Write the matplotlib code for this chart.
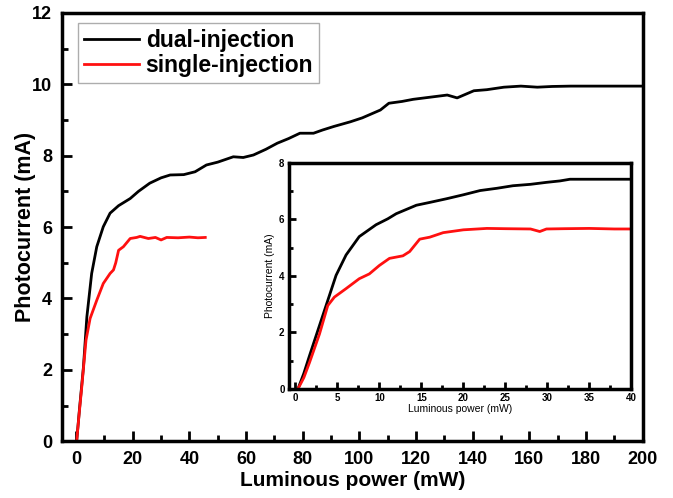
import numpy as np
import matplotlib.pyplot as plt
from matplotlib.ticker import MultipleLocator

plt.rcParams["font.family"] = ["Liberation Sans", "DejaVu Sans"]

# ── Data ──────────────────────────────────────────────────────────────────────
dual_x = [0.2, 1.2, 2.6, 3.8, 5.5, 7.3, 9.6, 12.0, 15.0, 19.1, 22.0, 26.0, 30.0,
          33.2, 38.0, 42.0, 46.0, 50.0, 55.5, 59.0, 62.6, 67.0, 71.0, 75.0, 79.0,
          83.8, 87.0, 91.0, 96.8, 101.0, 107.4, 110.4, 115.0, 119.0, 125.0,
          131.0, 134.5, 140.4, 145.0, 151.0, 157.0, 162.8, 168.0, 174.6, 185.0,
          200.0]
dual_y = [0.0, 0.9, 2.08, 3.48, 4.7, 5.45, 6.01, 6.39, 6.6, 6.8, 7.0, 7.23, 7.38,
          7.46, 7.47, 7.55, 7.74, 7.82, 7.97, 7.95, 8.02, 8.18, 8.35, 8.48, 8.63,
          8.63, 8.72, 8.82, 8.95, 9.06, 9.28, 9.47, 9.52, 9.58, 9.64,
          9.7, 9.62, 9.82, 9.85, 9.92, 9.95, 9.92, 9.94, 9.95, 9.95,
          9.95]

single_x = [0.2, 1.0, 2.0, 3.5, 4.95, 7.3, 9.6, 12.0, 13.2, 14.0, 15.0, 16.7,
            19.1, 21.4, 22.6, 25.5, 28.0, 30.0, 32.0, 36.0, 40.0, 43.0, 45.6]
single_y = [0.0, 0.7, 1.52, 2.83, 3.44, 3.95, 4.42, 4.7, 4.8, 5.0, 5.35, 5.45,
            5.68, 5.71, 5.74, 5.68, 5.71, 5.64, 5.71, 5.70, 5.72, 5.70, 5.71]

inset_dual_x = [0.3, 1.0, 1.67, 2.86, 3.85, 4.84, 6.03, 7.6, 9.6, 11.0, 12.0,
                14.4, 16.0, 18.0, 20.0, 22.0, 24.0, 25.9, 28.0, 29.9, 31.5,
                32.7, 35.0, 40.0]
inset_dual_y = [0.0, 0.55, 1.17, 2.24, 3.13, 4.02, 4.74, 5.39, 5.81, 6.02, 6.2,
                6.5, 6.6, 6.73, 6.87, 7.02, 7.1, 7.19, 7.24, 7.31, 7.36,
                7.42, 7.42, 7.42]

inset_single_x = [0.3, 1.0, 1.67, 2.86, 3.85, 4.64, 6.03, 7.6, 8.8, 10.0, 11.2,
                  12.8, 13.6, 14.8, 16.0, 17.6, 20.0, 22.8, 25.0, 28.0, 29.1,
                  29.9, 32.0, 35.0, 38.0, 40.0]
inset_single_y = [0.0, 0.4, 0.93, 1.94, 2.95, 3.25, 3.55, 3.9, 4.07, 4.37, 4.62,
                  4.71, 4.86, 5.3, 5.37, 5.53, 5.63, 5.68, 5.67, 5.66, 5.57,
                  5.66, 5.67, 5.68, 5.66, 5.66]

# ── Figure ────────────────────────────────────────────────────────────────────
fig = plt.figure(figsize=(6.73, 4.98), dpi=100, facecolor="white")
ax = fig.add_axes([0.092, 0.114, 0.863, 0.86])

ax.plot(dual_x, dual_y, color="black", lw=2, label="dual-injection")
ax.plot(single_x, single_y, color="#ff1010", lw=2, label="single-injection")

ax.set_xlim(-5, 200)
ax.set_ylim(0, 12)
ax.xaxis.set_major_locator(MultipleLocator(20))
ax.xaxis.set_minor_locator(MultipleLocator(10))
ax.yaxis.set_major_locator(MultipleLocator(2))
ax.yaxis.set_minor_locator(MultipleLocator(1))
ax.tick_params(which="major", direction="in", length=7, width=2, labelsize=13,
               top=False, right=False, pad=7)
ax.tick_params(which="minor", direction="in", length=4, width=2,
               top=False, right=False)
for lab in ax.get_xticklabels() + ax.get_yticklabels():
    lab.set_fontweight("bold")
for sp in ax.spines.values():
    sp.set_linewidth(2.5)

ax.set_xlabel("Luminous power (mW)", fontsize=15, fontweight="bold", labelpad=2)
ax.set_ylabel("Photocurrent (mA)", fontsize=15.5, fontweight="bold")
ax.yaxis.set_label_coords(-0.045, 0.5)

leg = ax.legend(loc="upper left", bbox_to_anchor=(0.116, 0.954),
                bbox_transform=fig.transFigure, borderaxespad=0,
                prop={"size": 16.5, "weight": "bold"}, handlelength=2.4,
                handletextpad=0.3, labelspacing=0.1, borderpad=0.25,
                fancybox=False, frameon=True)
leg.get_frame().set_edgecolor("#999999")
leg.get_frame().set_linewidth(1)

# ── Inset ─────────────────────────────────────────────────────────────────────
ins = fig.add_axes([0.429, 0.219, 0.509, 0.454])
ins.plot(inset_dual_x, inset_dual_y, color="black", lw=2)
ins.plot(inset_single_x, inset_single_y, color="#ff1010", lw=2)
ins.set_xlim(-0.8, 40)
ins.set_ylim(0, 8)
ins.xaxis.set_major_locator(MultipleLocator(5))
ins.xaxis.set_minor_locator(MultipleLocator(2.5))
ins.yaxis.set_major_locator(MultipleLocator(2))
ins.yaxis.set_minor_locator(MultipleLocator(1))
ins.tick_params(which="major", direction="in", length=5, width=2, labelsize=7,
                top=False, right=False, pad=3)
ins.tick_params(which="minor", direction="in", length=3, width=2,
                top=False, right=False)
for lab in ins.get_xticklabels() + ins.get_yticklabels():
    lab.set_fontweight("bold")
for sp in ins.spines.values():
    sp.set_linewidth(2.5)
ins.set_xlabel("Luminous power (mW)", fontsize=7.5, labelpad=1)
ins.set_ylabel("Photocurrent (mA)", fontsize=7.5, labelpad=3)

fig.savefig("out.png", dpi=100, facecolor="white")
